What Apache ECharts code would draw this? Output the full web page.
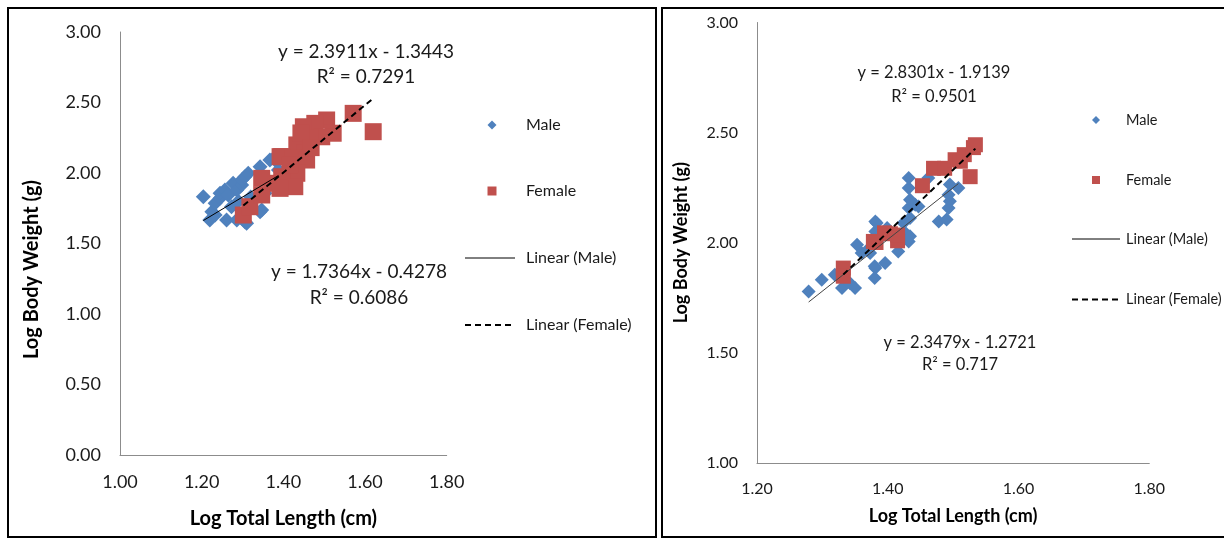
<!DOCTYPE html>
<html>
<head>
<meta charset="utf-8">
<script src="https://cdn.jsdelivr.net/npm/echarts@6/dist/echarts.min.js"></script>
<style>
html,body{margin:0;padding:0;background:#fff;}
#chart{width:1224px;height:540px;}
</style>
</head>
<body>
<div id="chart"></div>
<script>
// ---- Data ----
const leftMale = [
  [1.204,1.832],[1.220,1.667],[1.225,1.726],[1.233,1.702],[1.233,1.785],[1.245,1.821],
  [1.245,1.856],[1.257,1.879],[1.261,1.667],[1.265,1.844],[1.273,1.761],[1.277,1.927],
  [1.286,1.879],[1.286,1.667],[1.298,1.915],[1.298,1.950],[1.306,1.655],[1.306,1.974],
  [1.310,1.643],[1.314,1.998],[1.343,1.726],[1.347,1.738],[1.343,2.045],[1.355,1.856],
  [1.367,2.092],[1.380,2.116],[1.384,2.080],[1.388,2.021],[1.290,1.800],[1.320,1.830]
];
const leftFemale = [
  [1.302,1.702],[1.318,1.761],[1.347,1.962],[1.347,1.844],[1.392,2.116],[1.388,1.927],
  [1.571,2.423],[1.620,2.293],[1.506,2.376],[1.477,2.352],[1.449,2.328],[1.522,2.282],
  [1.494,2.257],[1.465,2.246],[1.433,2.199],[1.453,2.140],[1.396,2.116],[1.424,2.104],
  [1.457,2.092],[1.433,1.998],[1.396,1.974],[1.428,1.903],[1.392,1.891],[1.443,2.284],
  [1.468,2.180],[1.416,2.060]
];
const rightMale = [
  [1.279,1.779],[1.299,1.832],[1.319,1.855],[1.330,1.794],[1.342,1.817],[1.350,1.794],
  [1.353,1.991],[1.360,1.953],[1.373,1.953],[1.380,1.840],[1.381,1.885],[1.381,2.051],
  [1.383,2.090],[1.381,2.097],[1.396,1.908],[1.399,2.067],[1.416,1.960],[1.424,2.090],
  [1.427,2.044],[1.432,2.006],[1.434,2.029],[1.434,2.112],[1.432,2.158],[1.442,2.173],
  [1.434,2.195],[1.432,2.249],[1.432,2.294],[1.447,2.165],[1.462,2.294],[1.478,2.097],
  [1.490,2.105],[1.493,2.158],[1.495,2.188],[1.493,2.218],[1.495,2.264],[1.508,2.249],
  [1.388,2.020],[1.370,1.970],[1.380,1.893]
];
const rightFemale = [
  [1.332,1.885],[1.332,1.848],[1.378,2.006],[1.382,2.001],[1.395,2.045],[1.404,2.041],
  [1.415,2.009],[1.415,2.035],[1.453,2.259],[1.470,2.338],[1.487,2.338],[1.503,2.377],
  [1.511,2.370],[1.517,2.400],[1.526,2.300],[1.531,2.432],[1.534,2.445]
];
// trend line coefficients [slope, intercept] as printed on the chart
const leftMaleFit = [1.7364, -0.4278];
const leftFemaleFit = [2.3911, -1.3443];
const rightMaleFit = [2.3479, -1.2721];
const rightFemaleFit = [2.8301, -1.9139];
const leftEqTexts = ['y = 2.3911x - 1.3443', 'R\u00B2 = 0.7291', 'y = 1.7364x - 0.4278', 'R\u00B2 = 0.6086'];
const rightEqTexts = ['y = 2.8301x - 1.9139', 'R\u00B2 = 0.9501', 'y = 2.3479x - 1.2721', 'R\u00B2 = 0.717'];
const legendNames = ['Male', 'Female', 'Linear (Male)', 'Linear (Female)'];
const xTitle = 'Log Total Length (cm)';
const yTitle = 'Log Body Weight (g)';

const BLUE = '#4F81BD', RED = '#C0504D';
const FONT = 'Lato, "Open Sans", sans-serif';

function fitLine(data, fit) {
  const xs = data.map(d => d[0]);
  const a = Math.min(...xs), b = Math.max(...xs);
  return [[a, fit[0] * a + fit[1]], [b, fit[0] * b + fit[1]]];
}

function axisX(gi, min, fs, tfs, gap) {
  return {
    type: 'value', gridIndex: gi, min: min, max: 1.8, interval: 0.2,
    name: xTitle, nameLocation: 'middle', nameGap: gap,
    nameTextStyle: {fontFamily: FONT, fontWeight: 'bold', fontSize: tfs, color: '#000'},
    axisLine: {lineStyle: {color: '#8c8c8c', width: 1}},
    axisTick: {show: false}, splitLine: {show: false},
    axisLabel: {fontFamily: FONT, fontSize: fs, color: '#1a1a1a', margin: 18,
      formatter: v => v.toFixed(2)}
  };
}
function axisY(gi, min, fs, tfs, gap, pad) {
  return {
    type: 'value', gridIndex: gi, min: min, max: 3, interval: 0.5,
    name: yTitle, nameLocation: 'middle', nameGap: gap,
    nameTextStyle: {fontFamily: FONT, fontWeight: 'bold', fontSize: tfs, color: '#000', padding: pad},
    axisLine: {show: true, lineStyle: {color: '#8c8c8c', width: 1}},
    axisTick: {show: false}, splitLine: {show: false},
    axisLabel: {fontFamily: FONT, fontSize: fs, color: '#1a1a1a', margin: 19,
      formatter: v => v.toFixed(2)}
  };
}

function scatter(name, data, gi, sym, size, color) {
  return {
    name: name, type: 'scatter', xAxisIndex: gi, yAxisIndex: gi, data: data,
    symbol: sym, symbolSize: size, itemStyle: {color: color, opacity: 1}, z: 2
  };
}
function trend(name, data, fit, gi, dashed, width, color) {
  return {
    name: name, type: 'line', xAxisIndex: gi, yAxisIndex: gi, data: fitLine(data, fit),
    symbol: 'none', z: 5,
    lineStyle: {color: color, width: width, type: dashed ? [6, 4] : 'solid'}
  };
}

function legendGraphics(x0, textX, ys, mk, fs, lineW0, lineW1) {
  const g = [];
  const h = mk / 2;
  g.push({type: 'polygon', shape: {points: [[x0, ys[0] - h], [x0 + h, ys[0]], [x0, ys[0] + h], [x0 - h, ys[0]]]},
    style: {fill: BLUE}});
  g.push({type: 'rect', shape: {x: x0 - h, y: ys[1] - h, width: mk, height: mk}, style: {fill: RED}});
  g.push({type: 'line', shape: {x1: lineW0, y1: ys[2], x2: lineW1, y2: ys[2]}, style: {stroke: '#000', lineWidth: 1}});
  g.push({type: 'line', shape: {x1: lineW0, y1: ys[3], x2: lineW1, y2: ys[3]},
    style: {stroke: '#000', lineWidth: 2, lineDash: [6, 4]}});
  legendNames.forEach((n, i) => {
    g.push({type: 'text', style: {text: n, x: textX, y: ys[i], textVerticalAlign: 'middle',
      font: fs + 'px ' + FONT, fill: '#1a1a1a'}});
  });
  return g;
}
function eqGraphics(texts, cx1, ys1, cx2, ys2, fs) {
  const g = [];
  [[texts[0], cx1, ys1[0]], [texts[1], cx1, ys1[1]], [texts[2], cx2, ys2[0]], [texts[3], cx2, ys2[1]]].forEach(t => {
    g.push({type: 'text', z: 10, style: {text: t[0], x: t[1], y: t[2], textAlign: 'center', textVerticalAlign: 'middle',
      font: fs + 'px ' + FONT, fill: '#1a1a1a'}});
  });
  return g;
}

const graphics = [
  {type: 'rect', shape: {x: 8, y: 8, width: 648, height: 529}, style: {fill: 'none', stroke: '#000', lineWidth: 2}},
  {type: 'rect', shape: {x: 662, y: 8, width: 580, height: 529}, style: {fill: 'none', stroke: '#000', lineWidth: 2}}
].concat(
  legendGraphics(492, 526, [125, 191, 258, 325], 9, 16, 465, 515),
  legendGraphics(1096, 1126, [120, 180, 239, 299.5], 8, 14.5, 1072, 1120),
  eqGraphics(leftEqTexts, 366, [52, 76.5], 359, [272, 298], 19),
  eqGraphics(rightEqTexts, 934, [73, 96.5], 960, [342.5, 365], 16.5)
);

const option = {
  animation: false,
  backgroundColor: '#fff',
  grid: [
    {left: 120, top: 32, width: 326.7, height: 423},
    {left: 757, top: 22.5, width: 392.3, height: 440.5}
  ],
  xAxis: [axisX(0, 1.0, 18, 20, 54), axisX(1, 1.2, 16, 18, 44)],
  yAxis: [axisY(0, 0, 18, 20, 78, [0, 52, 0, 0]), axisY(1, 1.0, 16, 18, 67, [0, 0, 0, 0])],
  series: [
    scatter('Male', leftMale, 0, 'diamond', 15, BLUE),
    scatter('Female', leftFemale, 0, 'rect', 17, RED),
    trend('Linear (Male)', leftMale, leftMaleFit, 0, false, 1, '#000'),
    trend('Linear (Female)', leftFemale, leftFemaleFit, 0, true, 2, '#000'),
    scatter('Male', rightMale, 1, 'diamond', 14, BLUE),
    scatter('Female', rightFemale, 1, 'rect', 15, RED),
    trend('Linear (Male)', rightMale, rightMaleFit, 1, false, 1, '#444'),
    trend('Linear (Female)', rightFemale, rightFemaleFit, 1, true, 2, '#000')
  ],
  graphic: graphics
};
const chart = echarts.init(document.getElementById('chart'), null, {renderer: 'canvas'});
chart.setOption(option);
</script>
</body>
</html>
